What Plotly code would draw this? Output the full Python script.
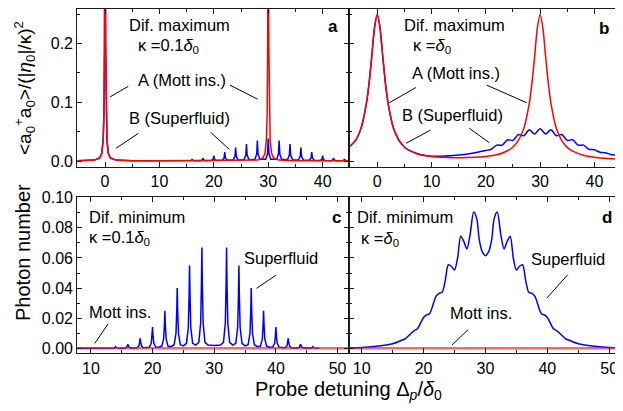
import plotly.graph_objects as go

FONT = "Liberation Sans, Arial, sans-serif"
BLUE = "#0000ff"
RED = "#ff0000"
INK = "#1a1a1a"

# ---------------- Panel a (kappa = 0.1 delta0, diffraction maximum) ----------------
A_MOTT_X = [-5.1, -3, -2, -1, -0.6, -0.35, -0.2, -0.1, -0.05, 0, 0.05, 0.1, 0.2, 0.35, 0.6, 1, 2, 3, 5, 10,
            15, 20, 25, 27, 28, 29, 29.4, 29.65, 29.8, 29.9, 29.95, 30, 30.05, 30.1, 30.2, 30.35, 30.6, 31, 32, 33,
            35, 40, 44.9]
A_MOTT_Y = [0.0004, 0.0008, 0.0015, 0.005, 0.013, 0.035, 0.08, 0.2, 0.35, 0.6, 0.35, 0.2, 0.08, 0.035, 0.013, 0.005, 0.0015, 0.0008, 0.0005, 0.0003,
            0.0003, 0.0003, 0.0005, 0.0008, 0.0015, 0.005, 0.013, 0.035, 0.08, 0.2, 0.35, 0.6, 0.35, 0.2, 0.08, 0.035, 0.013, 0.005, 0.0015, 0.0008,
            0.0005, 0.0003, 0.0003]

A_SF_X = [-5.1, -3, -2, -1, -0.6, -0.35, -0.2, -0.1, -0.05, 0, 0.05, 0.1, 0.2, 0.35, 0.6, 1, 2, 3, 5, 10, 14,
          15.55, 15.88, 16, 16.12, 16.45,
          17.55, 17.88, 18, 18.12, 18.45,
          19.55, 19.88, 20, 20.12, 20.45,
          21.55, 21.88, 22, 22.12, 22.45,
          23.55, 23.88, 24, 24.12, 24.45,
          25.55, 25.88, 26, 26.12, 26.45,
          27.55, 27.88, 28, 28.12, 28.45,
          29.55, 29.88, 30, 30.12, 30.45,
          31.55, 31.88, 32, 32.12, 32.45,
          33.55, 33.88, 34, 34.12, 34.45,
          35.55, 35.88, 36, 36.12, 36.45,
          37.55, 37.88, 38, 38.12, 38.45,
          39.55, 39.88, 40, 40.12, 40.45,
          41.55, 41.88, 42, 42.12, 42.45,
          43.55, 43.88, 44, 44.12, 44.45,
          44.9]
A_SF_Y = [0.0004, 0.0008, 0.0015, 0.005, 0.013, 0.035, 0.08, 0.2, 0.35, 0.55, 0.35, 0.2, 0.08, 0.035, 0.013, 0.005, 0.0015, 0.0008, 0.0005, 0.0003, 0.0003,
          0.0003, 0.001, 0.003, 0.001, 0.0003,
          0.0004, 0.0018, 0.005, 0.0018, 0.0004,
          0.0007, 0.0032, 0.009, 0.0032, 0.0007,
          0.0012, 0.0053, 0.015, 0.0053, 0.0012,
          0.0018, 0.008, 0.023, 0.008, 0.0018,
          0.0023, 0.010, 0.029, 0.010, 0.0023,
          0.0028, 0.012, 0.035, 0.012, 0.0028,
          0.003, 0.013, 0.038, 0.013, 0.003,
          0.0028, 0.012, 0.035, 0.012, 0.0028,
          0.0023, 0.010, 0.029, 0.010, 0.0023,
          0.0018, 0.008, 0.023, 0.008, 0.0018,
          0.0012, 0.0053, 0.015, 0.0053, 0.0012,
          0.0007, 0.0032, 0.009, 0.0032, 0.0007,
          0.0004, 0.0018, 0.005, 0.0018, 0.0004,
          0.0003, 0.001, 0.003, 0.001, 0.0003,
          0.0002]

# ---------------- Panel b (kappa = delta0, diffraction maximum) ----------------
B_MOTT_X = [-5.15, -4, -3, -2, -1.5, -1, -0.5, 0, 0.5, 1, 1.5, 2, 3, 4, 5, 6, 8, 10, 12, 15,
            18, 20, 22, 24, 25, 26, 27, 28, 28.5, 29, 29.5, 30, 30.5, 31, 31.5, 32, 33, 34, 35, 36,
            38, 40, 42, 44.9]
B_MOTT_Y = [0.024, 0.035, 0.0555, 0.098, 0.133, 0.179, 0.227, 0.249, 0.227, 0.179, 0.133, 0.098, 0.0555, 0.035, 0.0238, 0.0175, 0.0105, 0.0078, 0.0065, 0.0056,
            0.0062, 0.0078, 0.0105, 0.0175, 0.0238, 0.035, 0.0555, 0.098, 0.133, 0.179, 0.227, 0.249, 0.227, 0.179, 0.133, 0.098, 0.0552, 0.0345, 0.0232, 0.0168,
            0.0098, 0.0065, 0.0046, 0.0025]

B_SF_X = [-5.15, -4, -3, -2, -1.5, -1, -0.5, 0, 0.5, 1, 1.5, 2, 3, 4, 5, 6, 8, 10, 12, 14,
          16, 18, 19, 20, 21, 22, 23, 24, 25, 26, 27, 28, 29, 30, 31, 32, 33, 34, 35, 36,
          37, 38, 39, 40, 41, 42, 43, 44, 44.9]
B_SF_Y = [0.024, 0.035, 0.0555, 0.098, 0.133, 0.179, 0.227, 0.249, 0.227, 0.179, 0.133, 0.098, 0.0555, 0.035, 0.0238, 0.0175, 0.0105, 0.0082, 0.0082, 0.0092,
          0.011, 0.014, 0.016, 0.018, 0.020, 0.027, 0.027, 0.036, 0.035, 0.045, 0.043, 0.053, 0.046, 0.055, 0.046, 0.053, 0.043, 0.045, 0.035, 0.036,
          0.027, 0.027, 0.020, 0.019, 0.015, 0.014, 0.011, 0.010, 0.009]

# ---------------- Panel c (kappa = 0.1 delta0, diffraction minimum) ----------------
C_SF_X = [7.8, 12, 13,
          13.5, 13.8, 13.93, 14, 14.07, 14.2, 14.5, 15,
          15.5, 15.8, 15.93, 16, 16.07, 16.2, 16.5, 17,
          17.5, 17.8, 17.93, 18, 18.07, 18.2, 18.5, 19,
          19.5, 19.8, 19.93, 20, 20.07, 20.2, 20.5, 21,
          21.5, 21.8, 21.93, 22, 22.07, 22.2, 22.5, 23,
          23.5, 23.8, 23.93, 24, 24.07, 24.2, 24.5, 25,
          25.5, 25.8, 25.93, 26, 26.07, 26.2, 26.5, 27,
          27.5, 27.8, 27.93, 28, 28.07, 28.2, 28.5, 29, 30, 31,
          31.5, 31.8, 31.93, 32, 32.07, 32.2, 32.5, 33,
          33.5, 33.8, 33.93, 34, 34.07, 34.2, 34.5, 35,
          35.5, 35.8, 35.93, 36, 36.07, 36.2, 36.5, 37,
          37.5, 37.8, 37.93, 38, 38.07, 38.2, 38.5, 39,
          39.5, 39.8, 39.93, 40, 40.07, 40.2, 40.5, 41,
          41.5, 41.8, 41.93, 42, 42.07, 42.2, 42.5, 43,
          43.5, 43.8, 43.93, 44, 44.07, 44.2, 44.5, 45,
          45.5, 45.8, 45.93, 46, 46.07, 46.2, 46.5, 47]
C_SF_Y = [0.0001, 0.0001, 0.0001,
          0.0001, 0.0003, 0.0007, 0.0011, 0.0007, 0.0003, 0.0001, 0.0001,
          0.0002, 0.0007, 0.0018, 0.0028, 0.0018, 0.0007, 0.0002, 0.0002,
          0.0004, 0.0017, 0.0044, 0.0067, 0.0044, 0.0017, 0.0004, 0.0004,
          0.0008, 0.0035, 0.0092, 0.0141, 0.0092, 0.0035, 0.0008, 0.0007,
          0.0015, 0.0063, 0.0163, 0.025, 0.0163, 0.0063, 0.0015, 0.0011,
          0.0024, 0.010, 0.026, 0.040, 0.026, 0.010, 0.0024, 0.0016,
          0.0033, 0.0138, 0.0358, 0.055, 0.0358, 0.0138, 0.0033, 0.0021,
          0.004, 0.0168, 0.0436, 0.067, 0.0436, 0.0168, 0.004, 0.0022, 0.0018, 0.0022,
          0.004, 0.0168, 0.0436, 0.067, 0.0436, 0.0168, 0.004, 0.0021,
          0.0033, 0.0138, 0.0358, 0.055, 0.0358, 0.0138, 0.0033, 0.0016,
          0.0024, 0.010, 0.026, 0.040, 0.026, 0.010, 0.0024, 0.0011,
          0.0015, 0.0063, 0.0163, 0.025, 0.0163, 0.0063, 0.0015, 0.0007,
          0.0008, 0.0035, 0.0092, 0.0141, 0.0092, 0.0035, 0.0008, 0.0004,
          0.0004, 0.0017, 0.0044, 0.0067, 0.0044, 0.0017, 0.0004, 0.0002,
          0.0002, 0.0007, 0.0018, 0.0028, 0.0018, 0.0007, 0.0002, 0.0001,
          0.0001, 0.0003, 0.0007, 0.0011, 0.0007, 0.0003, 0.0001, 0.0001]
C_MOTT_X = [7.8, 51.9]
C_MOTT_Y = [0.0, 0.0]

# ---------------- Panel d (kappa = delta0, diffraction minimum) ----------------
D_SF_X = [8, 10, 12, 14, 15, 16, 16.5, 17, 18, 18.5, 19, 20, 20.5, 21, 22, 22.5, 23, 23.5, 24, 24.5,
          25, 25.5, 26, 26.5, 27, 27.5, 28.1, 28.6, 29, 29.5, 30, 30.5, 31, 31.4, 31.9, 32.5, 33, 33.5, 34, 34.5,
          35, 35.5, 36, 36.5, 37, 37.5, 38, 39, 39.5, 40, 41, 41.5, 42, 43, 43.5, 44, 45, 46, 48, 50, 51.9]
D_SF_Y = [0.0003, 0.0006, 0.0012, 0.0022, 0.003, 0.0045, 0.0055, 0.0062, 0.0100, 0.0118, 0.0130, 0.0205, 0.0222, 0.0232, 0.0345, 0.0365, 0.0372, 0.0450, 0.0555, 0.0545,
          0.0520, 0.0600, 0.0745, 0.0710, 0.0660, 0.0750, 0.0905, 0.0860, 0.0720, 0.0640, 0.0615, 0.0640, 0.0720, 0.0860, 0.0905, 0.0750, 0.0660, 0.0710, 0.0745, 0.0600,
          0.0520, 0.0545, 0.0555, 0.0450, 0.0372, 0.0365, 0.0345, 0.0232, 0.0222, 0.0205, 0.0130, 0.0118, 0.0100, 0.0062, 0.0055, 0.0045, 0.003, 0.0022, 0.0012, 0.0006, 0.0003]
D_MOTT_X = [8.0, 51.9]
D_MOTT_Y = [0.0, 0.0]

# ---------------- Axis ranges / ticks ----------------
TOP_X_TICKS = [0, 10, 20, 30, 40]
BOT_X_TICKS = [10, 20, 30, 40, 50]
TOP_Y_TICKS = [0.0, 0.1, 0.2]
TOP_Y_LABELS = ["0.0", "0.1", "0.2"]
BOT_Y_TICKS = [0.0, 0.02, 0.04, 0.06, 0.08, 0.10]
BOT_Y_LABELS = ["0.00", "0.02", "0.04", "0.06", "0.08", "0.10"]

fig = go.Figure()


def add(x, y, color, xa, ya, width=1.5, shape="linear", opacity=1.0):
    fig.add_trace(go.Scatter(x=x, y=y, mode="lines", xaxis=xa, yaxis=ya, opacity=opacity,
                             line=dict(color=color, width=width, shape=shape, smoothing=0.8 if shape == "spline" else None),
                             showlegend=False, hoverinfo="skip", cliponaxis=True))


add(A_SF_X, A_SF_Y, BLUE, "x", "y")
add(A_MOTT_X, A_MOTT_Y, RED, "x", "y")
add(B_SF_X, B_SF_Y, BLUE, "x2", "y2", shape="spline")
add(B_MOTT_X, B_MOTT_Y, RED, "x2", "y2", shape="spline")
add(C_SF_X, C_SF_Y, BLUE, "x3", "y3")
add(C_MOTT_X, C_MOTT_Y, RED, "x3", "y3", width=2.5, opacity=0.6)
add(D_SF_X, D_SF_Y, BLUE, "x4", "y4", shape="spline")
add(D_MOTT_X, D_MOTT_Y, RED, "x4", "y4", width=2.5, opacity=0.6)

# The page body has an 8 px margin, so the figure is made 8 px smaller and all layout positions shifted.
OFF = 8
W, H = 623 - OFF, 411 - OFF


def px(x):
    return (x - OFF) / W


def py(y):
    return 1 - (y - OFF) / H


XL, XM, XR = px(77.3), px(349.3), px(621.0)
TOP_DOM = [py(166.7), py(9.3)]
BOT_DOM = [py(353.3), py(197.0)]

base = dict(showline=True, linecolor=INK, linewidth=1.2, mirror="ticks", ticks="inside", ticklen=5,
            tickwidth=1.1, tickcolor=INK, showgrid=False, zeroline=False, automargin=False,
            tickfont=dict(family=FONT, size=16, color="black"))


def xax(dom, rng, anchor, tickvals, minor_dtick):
    d = dict(base)
    d.update(domain=dom, range=rng, anchor=anchor, tickmode="array", tickvals=tickvals,
             ticktext=[str(v) for v in tickvals],
             minor=dict(ticks="inside", ticklen=3, tickwidth=1.1, tickcolor=INK, dtick=minor_dtick, tick0=0, showgrid=False))
    return d


def yax(dom, rng, anchor, tickvals, ticktext, minor_dtick, labels=True):
    d = dict(base)
    d.update(domain=dom, range=rng, anchor=anchor, tickmode="array", tickvals=tickvals,
             ticktext=ticktext, showticklabels=labels,
             minor=dict(ticks="inside", ticklen=3, tickwidth=1.1, tickcolor=INK, dtick=minor_dtick, tick0=0, showgrid=False))
    return d


fig.update_layout(
    width=W, height=H, margin=dict(l=0, r=0, t=0, b=0, pad=0, autoexpand=False),
    paper_bgcolor="white", plot_bgcolor="white",
    font=dict(family=FONT, size=16, color="black"),
    xaxis=xax([XL, XM], [-5.1, 44.9], "y", TOP_X_TICKS, 5),
    yaxis=yax(TOP_DOM, [-0.0097, 0.258], "x", TOP_Y_TICKS, TOP_Y_LABELS, 0.05),
    xaxis2=xax([XM, XR], [-5.15, 44.9], "y2", TOP_X_TICKS, 5),
    yaxis2=yax(TOP_DOM, [-0.0097, 0.258], "x2", TOP_Y_TICKS, TOP_Y_LABELS, 0.05, labels=False),
    xaxis3=xax([XL, XM], [7.8, 51.9], "y3", BOT_X_TICKS, 5),
    yaxis3=yax(BOT_DOM, [-0.0033, 0.1005], "x3", BOT_Y_TICKS, BOT_Y_LABELS, 0.01),
    xaxis4=xax([XM, XR], [8.0, 51.9], "y4", BOT_X_TICKS, 5),
    yaxis4=yax(BOT_DOM, [-0.0033, 0.1005], "x4", BOT_Y_TICKS, BOT_Y_LABELS, 0.01, labels=False),
)

ann = []


def txt(text, x, y, xr, yr, size=16.5, xanchor="center", bold=False):
    if bold:
        text = "<b>" + text + "</b>"
    ann.append(dict(text=text, x=x, y=y, xref=xr, yref=yr, showarrow=False, xanchor=xanchor,
                    yanchor="middle", font=dict(family=FONT, size=size, color="black")))


shapes = []


def seg(x0, y0, x1, y1, xr, yr):
    shapes.append(dict(type="line", x0=x0, y0=y0, x1=x1, y1=y1, xref=xr, yref=yr,
                       line=dict(color="black", width=1)))


# panel a
txt("Dif. maximum", 13.6, 0.231, "x", "y")
txt("κ =0.1<i>δ</i><sub>0</sub>", 11.6, 0.195, "x", "y")
txt("a", 41.9, 0.228, "x", "y", size=17, bold=True)
txt("A (Mott ins.)", 14.1, 0.138, "x", "y")
txt("B (Superfluid)", 13.6, 0.073, "x", "y")
seg(4.28, 0.127, 0.92, 0.109, "x", "y")
seg(22.97, 0.129, 28.06, 0.105, "x", "y")
seg(6.12, 0.047, 2.02, 0.0216, "x", "y")
seg(19.42, 0.0488, 22.84, 0.0199, "x", "y")

# panel b
txt("Dif. maximum", 14.3, 0.231, "x2", "y2")
txt("κ =<i>δ</i><sub>0</sub>", 10.0, 0.195, "x2", "y2")
txt("b", 41.7, 0.226, "x2", "y2", size=17, bold=True)
txt("A (Mott ins.)", 14.5, 0.150, "x2", "y2")
txt("B (Superfluid)", 13.9, 0.078, "x2", "y2")
seg(7.13, 0.125, 2.21, 0.099, "x2", "y2")
seg(20.17, 0.129, 27.54, 0.099, "x2", "y2")
seg(9.84, 0.0527, 5.29, 0.030, "x2", "y2")
seg(16.96, 0.0556, 20.65, 0.031, "x2", "y2")

# panel c
txt("Dif. minimum", 9.4, 0.087, "x3", "y3", xanchor="left")
txt("κ =0.1<i>δ</i><sub>0</sub>", 9.4, 0.0735, "x3", "y3", xanchor="left")
txt("c", 49.8, 0.087, "x3", "y3", size=17, bold=True)
txt("Superfluid", 40.9, 0.0598, "x3", "y3")
txt("Mott ins.", 14.8, 0.0239, "x3", "y3")
seg(40.0, 0.0485, 36.85, 0.0398, "x3", "y3")
seg(12.8, 0.0163, 10.65, 0.0033, "x3", "y3")

# panel d
txt("Dif. minimum", 8.9, 0.087, "x4", "y4", xanchor="left")
txt("κ =<i>δ</i><sub>0</sub>", 9.6, 0.0725, "x4", "y4", xanchor="left")
txt("d", 49.6, 0.087, "x4", "y4", size=17, bold=True)
txt("Superfluid", 43.3, 0.0594, "x4", "y4")
txt("Mott ins.", 29.3, 0.0232, "x4", "y4")
seg(43.3, 0.0489, 39.9, 0.0333, "x4", "y4")
seg(27.2, 0.0124, 24.6, 0.0022, "x4", "y4")

# axis titles
ann.append(dict(text="&lt;a<sub>0</sub><sup>+</sup>a<sub>0</sub>&gt;/(|<i>η</i><sub>0</sub>|/κ)<sup>2</sup>",
                x=px(24), y=py(88), xref="paper", yref="paper", showarrow=False, textangle=-90,
                xanchor="center", yanchor="middle", font=dict(family=FONT, size=19, color="black")))
ann.append(dict(text="Photon number", x=px(23), y=py(253), xref="paper", yref="paper", showarrow=False,
                textangle=-90, xanchor="center", yanchor="middle", font=dict(family=FONT, size=20, color="black")))
ann.append(dict(text="Probe detuning Δ<sub><i>p</i></sub>/<i>δ</i><sub>0</sub>", x=px(348), y=py(390),
                xref="paper", yref="paper", showarrow=False, xanchor="center", yanchor="middle",
                font=dict(family=FONT, size=20, color="black")))

fig.update_layout(annotations=ann, shapes=shapes)
fig.write_html("out.html")
